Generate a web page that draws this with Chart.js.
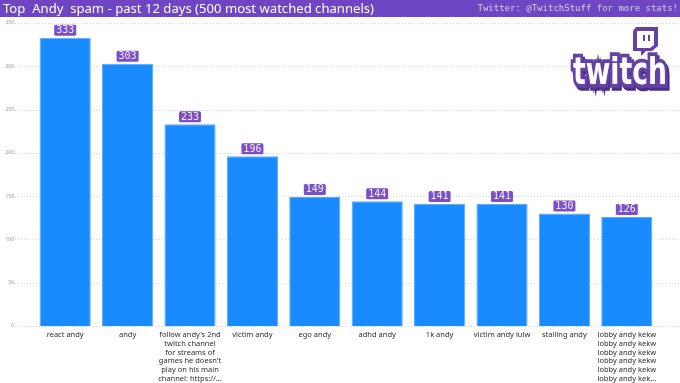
<!DOCTYPE html>
<html><head><meta charset="utf-8">
<script src="https://cdn.jsdelivr.net/npm/chart.js@4.4.1/dist/chart.umd.min.js"></script>
<style>html,body{margin:0;padding:0;background:#fff;}canvas{display:block;}</style>
</head><body>
<canvas id="c" width="680" height="383"></canvas>
<script>
const categories = [
  "react andy",
  "andy",
  ["follow andy's 2nd","twitch channel","for streams of","games he doesn't","play on his main","channel: https://..."],
  "victim andy",
  "ego andy",
  "adhd andy",
  "1k andy",
  "victim andy lulw",
  "stalling andy",
  ["lobby andy kekw","lobby andy kekw","lobby andy kekw","lobby andy kekw","lobby andy kekw","lobby andy kek..."]
];
const values = [333, 303, 233, 196, 149, 144, 141, 141, 130, 126];
const yTicks = [0, 50, 100, 150, 200, 250, 300, 350];
const titleText = "Top  Andy  spam - past 12 days (500 most watched channels)";
const creditText = "Twitter: @TwitchStuff for more stats!";

const PURPLE = '#6e45c2';

const decor = {
  id: 'decor',
  beforeDatasetsDraw(chart) {
    const ctx = chart.ctx, y = chart.scales.y;
    ctx.save();
    ctx.strokeStyle = '#d6d6d6';
    ctx.lineWidth = 1;
    ctx.setLineDash([1, 2]);
    yTicks.forEach(v => {
      const py = Math.round(y.getPixelForValue(v)) + 0.5;
      ctx.beginPath(); ctx.moveTo(15, py); ctx.lineTo(680, py); ctx.stroke();
    });
    ctx.restore();
  },
  afterDraw(chart) {
    const ctx = chart.ctx;
    ctx.save();
    ctx.fillStyle = PURPLE;
    ctx.fillRect(0, 0, 680, 17);
    ctx.fillStyle = '#ffffff';
    ctx.textBaseline = 'middle';
    ctx.font = '13px "Noto Sans"';
    const w = ctx.measureText(titleText).width;
    ctx.save();
    ctx.translate(3, 9);
    ctx.scale(371 / w, 1);
    ctx.fillText(titleText, 0, 0);
    ctx.restore();
    ctx.fillStyle = '#d9d0ee';
    ctx.font = '9px "DejaVu Sans Mono"';
    ctx.textAlign = 'right';
    ctx.fillText(creditText, 678, 9);

    const meta = chart.getDatasetMeta(0);
    ctx.font = '10px "DejaVu Sans Mono"';
    ctx.textAlign = 'center';
    meta.data.forEach((bar, i) => {
      const bx = bar.x, by = bar.y;
      ctx.fillStyle = '#7a4fc8';
      ctx.beginPath();
      ctx.roundRect(bx - 11, by - 13, 22, 11, 1.5);
      ctx.fill();
      ctx.fillStyle = '#f0ecf8';
      ctx.fillText(String(values[i]), bx, by - 7.3);
    });

    const lp = '#6441a5';
    ctx.fillStyle = lp;
    ctx.beginPath();
    ctx.moveTo(636, 27); ctx.lineTo(658, 27); ctx.lineTo(658, 46); ctx.lineTo(652, 51);
    ctx.lineTo(646, 51); ctx.lineTo(641, 56); ctx.lineTo(641, 51); ctx.lineTo(633, 51);
    ctx.lineTo(633, 31); ctx.closePath(); ctx.fill();
    ctx.fillStyle = '#ffffff';
    ctx.beginPath();
    ctx.moveTo(637, 31); ctx.lineTo(654, 31); ctx.lineTo(654, 45); ctx.lineTo(650, 48);
    ctx.lineTo(637, 48); ctx.closePath(); ctx.fill();
    ctx.fillStyle = lp;
    ctx.fillRect(643, 35, 2, 6);
    ctx.fillRect(648, 35, 2, 6);
    ctx.font = 'bold 40px "DejaVu Sans"';
    ctx.textAlign = 'left';
    ctx.textBaseline = 'alphabetic';
    const tw = ctx.measureText('twitch').width;
    ctx.save();
    ctx.translate(573, 84);
    ctx.scale(94 / tw, 0.95);
    ctx.lineJoin = 'miter';
    ctx.fillStyle = '#4b2f80';
    ctx.strokeStyle = '#4b2f80';
    ctx.lineWidth = 8;
    ctx.strokeText('twitch', 3, 3);
    ctx.fillText('twitch', 3, 3);
    ctx.strokeStyle = lp;
    ctx.lineWidth = 8;
    ctx.strokeText('twitch', 0, 0);
    ctx.fillStyle = '#ffffff';
    ctx.fillText('twitch', 0, 0);
    ctx.restore();
    ctx.restore();
  }
};

new Chart(document.getElementById('c'), {
  type: 'bar',
  data: {
    labels: categories,
    datasets: [{
      data: values,
      backgroundColor: '#178bff',
      borderColor: '#5aaaff',
      borderWidth: 1,
      categoryPercentage: 1,
      barPercentage: 0.82
    }]
  },
  options: {
    responsive: false,
    animation: false,
    devicePixelRatio: 1,
    layout: { padding: { top: 14, right: 22, left: 0, bottom: 0 } },
    plugins: { legend: { display: false }, tooltip: { enabled: false } },
    scales: {
      x: {
        grid: { display: false, drawTicks: false },
        border: { display: false },
        ticks: {
          autoSkip: false, maxRotation: 0, minRotation: 0,
          color: '#2e2e2e', padding: 5,
          font: { family: '"Noto Sans"', size: 7.5, lineHeight: 1.15 }
        },
        afterFit(s) { s.height = 57; }
      },
      y: {
        min: 0, max: 350,
        grid: { display: false, drawTicks: false },
        border: { display: false },
        ticks: {
          stepSize: 50, color: '#999', padding: 20,
          font: { family: '"Noto Sans"', size: 5 }
        },
        afterFit(s) { s.width = 34; }
      }
    }
  },
  plugins: [decor]
});
</script>
</body></html>
